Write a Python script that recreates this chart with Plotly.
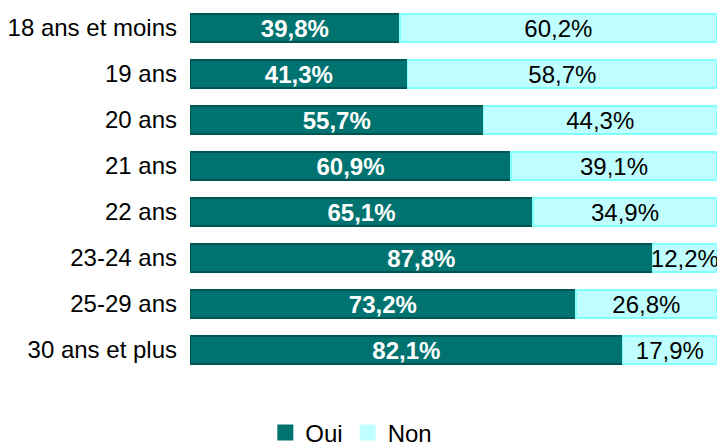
import plotly.graph_objects as go

categories = ["18 ans et moins", "19 ans", "20 ans", "21 ans", "22 ans",
              "23-24 ans", "25-29 ans", "30 ans et plus"]
oui = [39.8, 41.3, 55.7, 60.9, 65.1, 87.8, 73.2, 82.1]
non = [60.2, 58.7, 44.3, 39.1, 34.9, 12.2, 26.8, 17.9]

OUI_C = "#007370"
NON_C = "#c0ffff"
FONT = "Liberation Sans, Arial"

def fmt(v):
    return f"{v:.1f}%".replace(".", ",")

fig = go.Figure()
fig.add_trace(go.Bar(
    y=categories, x=oui, name="Oui", orientation="h", showlegend=False,
    marker=dict(color=OUI_C, line=dict(color="#005552", width=1.5)),
    text=[fmt(v) for v in oui], textposition="inside", insidetextanchor="middle",
    constraintext="none",
    textfont=dict(family=FONT, size=24, color="white", weight="bold"),
))
fig.add_trace(go.Bar(
    y=categories, x=non, name="Non", orientation="h", showlegend=False,
    marker=dict(color=NON_C, line=dict(color="#80ffff", width=1.5)),
    text=[fmt(v) for v in non], textposition="inside", insidetextanchor="middle",
    constraintext="none",
    textfont=dict(family=FONT, size=24, color="black"),
))
# legend entries with larger square swatches
for nm, col in [("Oui", OUI_C), ("Non", NON_C)]:
    fig.add_trace(go.Scatter(
        x=[None], y=[None], mode="markers", name=nm,
        marker=dict(symbol="square", size=20, color=col),
    ))

fig.update_layout(
    barmode="stack", bargap=0.39,
    width=717, height=443,
    margin=dict(l=190, r=0, t=5, b=70, autoexpand=False),
    plot_bgcolor="white", paper_bgcolor="white",
    font=dict(family=FONT, size=24, color="black"),
    xaxis=dict(range=[0, 100], visible=False),
    yaxis=dict(autorange="reversed", showgrid=False, showline=False, automargin=False,
               ticks="", ticklabelstandoff=12, tickfont=dict(size=24)),
    legend=dict(orientation="h", xref="container", yref="paper",
                x=0.49, xanchor="center", y=-0.163, yanchor="middle",
                font=dict(size=24), traceorder="normal", itemwidth=30),
    showlegend=True,
)
fig.write_html("out.html", post_script="document.body.style.margin='0';",
               config={"displayModeBar": False})
